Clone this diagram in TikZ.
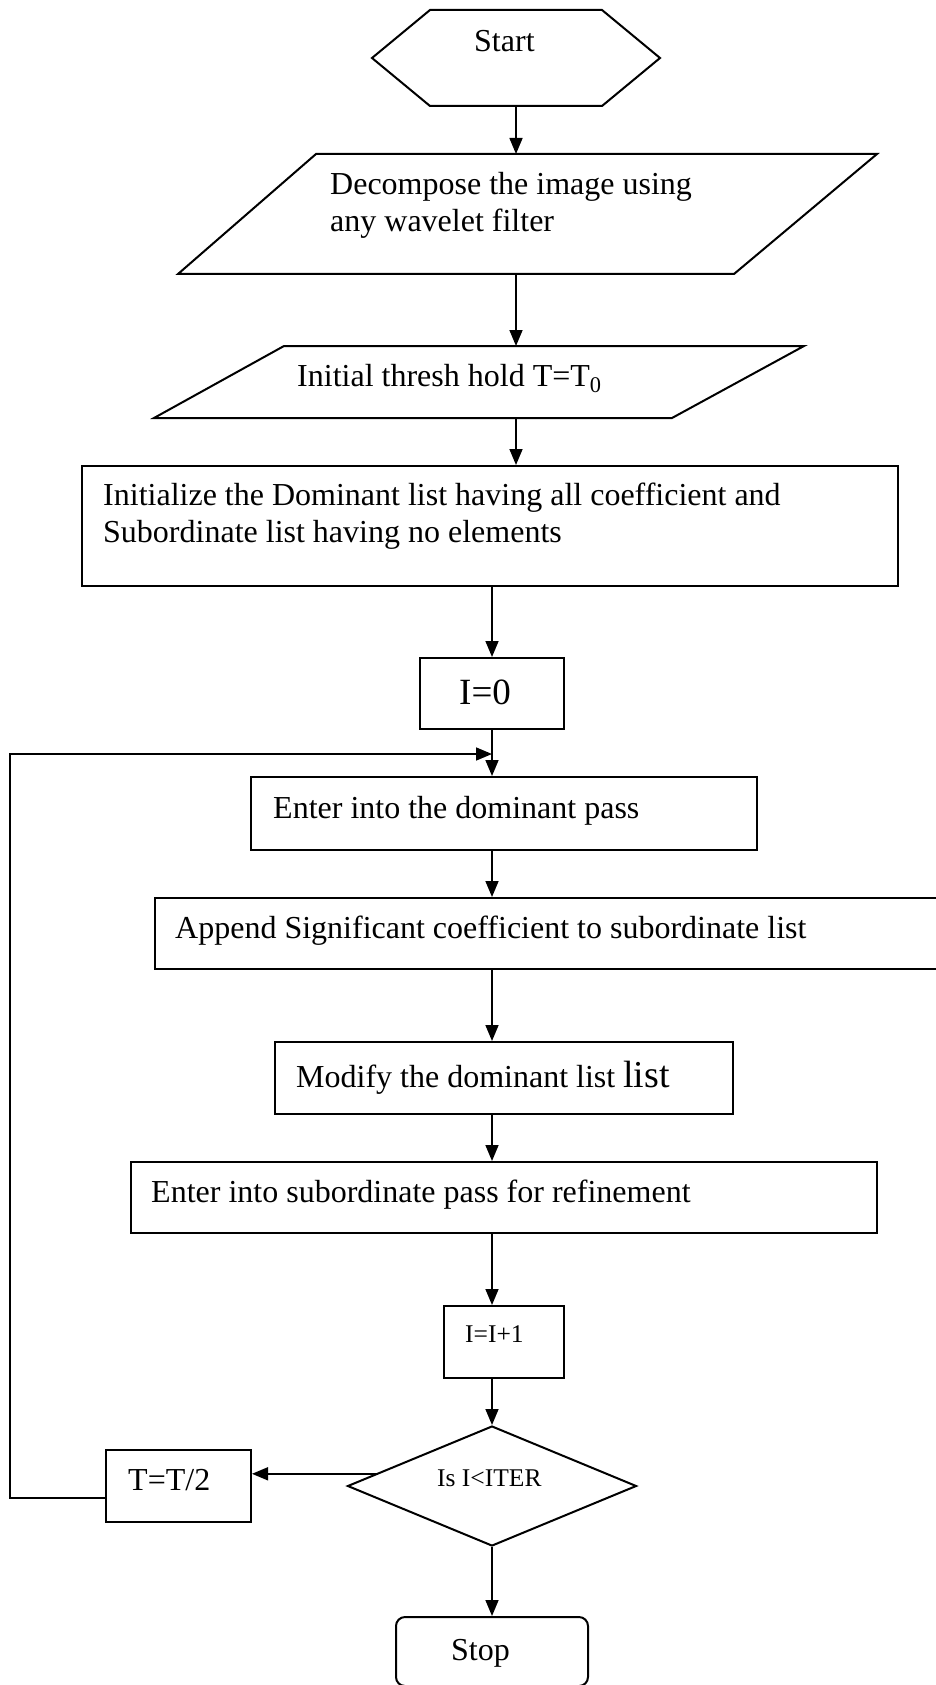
\documentclass[tikz,border=0pt]{standalone}
\usepackage{fontspec}
\setmainfont{Liberation Serif}
\usetikzlibrary{arrows.meta,shapes.geometric,calc}

\begin{document}
\begin{tikzpicture}[x=1pt,y=-1pt,
  outline/.style={draw,line width=2pt,line join=miter},
  stepbox/.style={outline,rectangle,inner sep=0pt,minimum width=#1},
  label/.style={anchor=base west,inner sep=0pt,align=left,
    font=\fontsize{32}{37}\selectfont},
  small/.style={label,font=\fontsize{25.5}{30}\selectfont},
  arr/.style={line width=1.6pt,-{Triangle[length=16pt,width=13pt]}}]

\useasboundingbox (0,0) rectangle (936,1685);
\clip (0,0) rectangle (936,1685);

% start hexagon
\coordinate (hexb) at (516,106);
\draw[outline] (372,58) -- (430,10) -- (602,10) -- (660,58)
  -- (602,106) -- (430,106) -- cycle;
\node[label] (start) at (474,52) {Start};

% input parallelograms (multi-line labels are placed by their last baseline)
\coordinate (decompn) at (516,154);
\coordinate (decomps) at (516,274);
\draw[outline] (316,154) -- (877,154) -- (734,274) -- (178,274) -- cycle;
\node[label] (decomptxt) at (330,232) {Decompose the image using\\any wavelet filter};

\coordinate (threshn) at (516,346);
\coordinate (threshs) at (516,418);
\draw[outline] (284,346) -- (804,346) -- (672,418) -- (154,418) -- cycle;
\node[label] (threshtxt) at (297,386) {Initial thresh hold T=T\textsubscript{0}};

% process boxes
\node[stepbox=816pt,minimum height=120pt] (init) at (490,526) {};
\node[label] (inittxt) at (103,542)
  {Initialize the Dominant list having all coefficient and\\Subordinate list having no elements};

\node[stepbox=144pt,minimum height=71pt] (izero) at (492,693.5) {};
\node[label,font=\fontsize{37}{40}\selectfont] (izerotxt) at (459,704) {I=0};

\node[stepbox=506pt,minimum height=73pt] (dom) at (504,813.5) {};
\node[label] (domtxt) at (273,818) {Enter into the dominant pass};

\node[stepbox=835pt,minimum height=71pt] (app) at (572.5,933.5) {};
\node[label] (apptxt) at (175,938) {Append Significant coefficient to subordinate list};

\node[stepbox=458pt,minimum height=72pt] (mod) at (504,1078) {};
\node[label] (modtxt) at (296,1087)
  {Modify the dominant list {\fontsize{38}{40}\selectfont list}};

\node[stepbox=746pt,minimum height=71pt] (sub) at (504,1197.5) {};
\node[label] (subtxt) at (151,1202) {Enter into subordinate pass for refinement};

\node[stepbox=120pt,minimum height=72pt] (inc) at (504,1342) {};
\node[small] (inctxt) at (465,1342) {I=I+1};

% decision
\node[outline,diamond,inner sep=0pt,minimum width=289pt,minimum height=120pt]
  (dec) at (492,1486) {};
\node[small] (dectxt) at (437,1486) {Is I<ITER};

\node[stepbox=145pt,minimum height=72pt] (thalf) at (178.5,1486) {};
\node[label] (thalftxt) at (128,1490) {T=T/2};

\node[outline,rectangle,rounded corners=9pt,inner sep=0pt,minimum width=192pt,
  minimum height=69pt] (stop) at (492,1651.5) {};
\node[label] (stoptxt) at (451,1660) {Stop};

% connectors
\draw[arr] (hexb) -- (decompn);
\draw[arr] (decomps) -- (threshn);
\draw[arr] (threshs) -- (init.north -| threshs);
\draw[arr] (init.south -| izero) -- (izero.north);
\draw[arr] (izero.south) -- (dom.north -| izero);
\draw[arr] (dom.south -| izero) -- (app.north -| izero);
\draw[arr] (app.south -| izero) -- (mod.north -| izero);
\draw[arr] (mod.south -| izero) -- (sub.north -| izero);
\draw[arr] (sub.south -| izero) -- (inc.north -| izero);
\draw[arr] (inc.south -| izero) -- (dec.north);
\draw[arr] (dec.south) -- (stop.north);

% loop back through T=T/2
\coordinate (exit) at ($(dec.west)!0.2!(dec.north)$);
\draw[arr] (exit) -- (exit -| thalf.east);
\coordinate (loop) at (10,754);
\draw[arr] ([yshift=-12pt]thalf.west) -| (loop) -- (loop -| izero);

\end{tikzpicture}
\end{document}
